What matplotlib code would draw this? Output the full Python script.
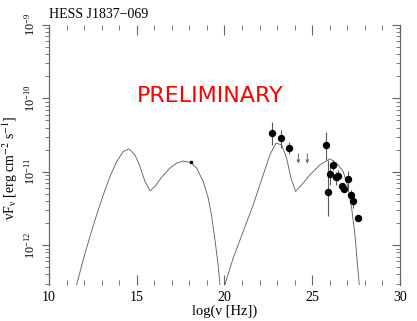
import numpy as np
import matplotlib
matplotlib.use('Agg')
import matplotlib.pyplot as plt
from matplotlib.ticker import MultipleLocator, LogLocator, NullFormatter, FixedLocator

plt.rcParams['font.family'] = ['Liberation Serif', 'DejaVu Serif']
plt.rcParams['mathtext.fontset'] = 'stix'

# model curve (log nu, log nuFnu)
model_x = [11.45, 11.578, 11.954, 12.336, 12.718, 13.094, 13.476, 13.858, 14.234, 14.558, 14.900, 15.185,
           15.470, 15.755, 16.040, 16.422, 16.895, 17.276, 17.652, 18.074, 18.416, 18.792, 19.077,
           19.271, 19.459, 19.647, 19.744, 19.89,
           20.028, 20.501, 21.071, 21.641, 22.211, 22.593, 22.934, 23.259, 23.544, 23.789, 24.057,
           24.399, 24.872, 25.442, 26.011, 26.393, 26.769, 27.054, 27.248, 27.436, 27.567, 27.681, 27.78]
model_y = [-12.75, -12.537, -12.197, -11.880, -11.585, -11.313, -11.064, -10.860, -10.724, -10.687, -10.769,
           -10.928, -11.132, -11.259, -11.200, -11.072, -10.950, -10.882, -10.854, -10.873, -10.950,
           -11.132, -11.358, -11.608, -11.925, -12.288, -12.537, -12.9,
           -12.537, -12.174, -11.812, -11.449, -11.041, -10.769, -10.610, -10.633, -10.814, -11.086,
           -11.268, -11.177, -11.041, -10.905, -10.823, -10.882, -10.996, -11.222, -11.494, -11.857,
           -12.220, -12.537, -12.75]

# single point on the synchrotron hump
dot_x = [18.07]
dot_y = [1.34e-11]

# gamma-ray data points
pts_x = [22.72, 23.22, 23.68, 25.77, 25.88, 26.03, 26.20, 26.35, 26.50, 26.68, 26.83, 27.03, 27.19, 27.34, 27.62]
pts_y = [3.36e-11, 2.93e-11, 2.14e-11, 2.31e-11, 5.35e-12, 9.31e-12, 1.25e-11, 8.36e-12, 8.83e-12,
         6.35e-12, 5.83e-12, 8.04e-12, 4.86e-12, 4.03e-12, 2.34e-12]
pts_lo = [2.33e-11, 2.10e-11, 1.74e-11, 1.46e-11, 2.47e-12, 6.65e-12, 1.05e-11, 6.70e-12, 7.40e-12,
          5.90e-12, 5.50e-12, 6.05e-12, 4.20e-12, 3.25e-12, 2.34e-12]
pts_hi = [4.74e-11, 3.72e-11, 2.58e-11, 3.53e-11, 1.46e-11, 1.25e-11, 1.45e-11, 1.00e-11, 1.05e-11,
          6.80e-12, 6.20e-12, 1.01e-11, 5.60e-12, 4.80e-12, 2.34e-12]

# upper limits
ul_x = [24.21, 24.72]
ul_y = [1.76e-11, 1.76e-11]

y_ticks = [1e-12, 1e-11, 1e-10, 1e-9]

fig = plt.figure(figsize=(4.17, 3.21), dpi=100)
ax = fig.add_axes([0.1175, 0.112, 0.8415, 0.81])

ax.plot(model_x, 10 ** np.array(model_y), color='0.35', lw=0.6)
ax.plot(dot_x, dot_y, 's', color='black', ms=2)

yerr = [np.array(pts_y) - np.array(pts_lo), np.array(pts_hi) - np.array(pts_y)]
ax.errorbar(pts_x, pts_y, yerr=yerr, fmt='o', color='black', ms=4.3, ecolor='0.35', elinewidth=0.8, capsize=0)

for x, y in zip(ul_x, ul_y):
    ax.annotate('', xy=(x, y * 0.74), xytext=(x, y),
                arrowprops=dict(arrowstyle='->', lw=0.6, color='0.3', shrinkA=0, shrinkB=0, mutation_scale=5))

ax.set_yscale('log')
ax.set_xlim(10, 30)
ax.set_ylim(2.86e-13, 1e-9)

ax.xaxis.set_major_locator(MultipleLocator(5))
ax.xaxis.set_minor_locator(MultipleLocator(1))
ax.tick_params(axis='x', which='both', direction='in', top=True, bottom=True, color='0.4', labelsize=10, pad=4)
ax.tick_params(axis='x', which='major', length=7)
ax.tick_params(axis='x', which='minor', length=3.5)

ax.yaxis.set_major_locator(FixedLocator(y_ticks))
ax.yaxis.set_minor_locator(LogLocator(base=10, subs=np.arange(2, 10)))
ax.yaxis.set_minor_formatter(NullFormatter())
ax.tick_params(axis='y', which='both', direction='out', left=True, right=False, color='0.4', labelsize=8.7, pad=3)
ax.tick_params(axis='y', which='major', length=5)
ax.tick_params(axis='y', which='minor', length=3)
for lab in ax.get_yticklabels():
    lab.set_rotation(90)
    lab.set_va('center')

ax2 = ax.twinx()
ax2.set_yscale('log')
ax2.set_ylim(ax.get_ylim())
ax2.yaxis.set_major_locator(FixedLocator(y_ticks))
ax2.yaxis.set_minor_locator(LogLocator(base=10, subs=np.arange(2, 10)))
ax2.tick_params(axis='y', which='both', direction='in', labelright=False, color='0.4')
ax2.tick_params(axis='x', which='both', bottom=False, top=False, labelbottom=False)
ax2.tick_params(axis='y', which='major', length=6)
ax2.tick_params(axis='y', which='minor', length=3)

for a in (ax, ax2):
    a.spines['top'].set_visible(False)
    a.spines['bottom'].set_visible(False)
    a.spines['left'].set_color('0.4')
    a.spines['right'].set_color('0.4')

ax.set_xlabel('log(ν [Hz])', fontsize=10.5, labelpad=1)
ax.set_ylabel('νF$_{\\mathregular{ν}}$ [erg cm$^{-2}$ s$^{-1}$]', fontsize=10)
ax.yaxis.set_label_coords(-0.083, 0.45)

fig.text(49 / 417, 1 - 18 / 321, 'HESS J1837\u2212069', fontsize=10, ha='left', va='baseline')
ax.text(0.4607, 0.704, 'PRELIMINARY', transform=ax.transAxes, color='red', fontsize=16,
        family='DejaVu Sans', ha='center', va='baseline')

fig.savefig('out.png', dpi=100)
